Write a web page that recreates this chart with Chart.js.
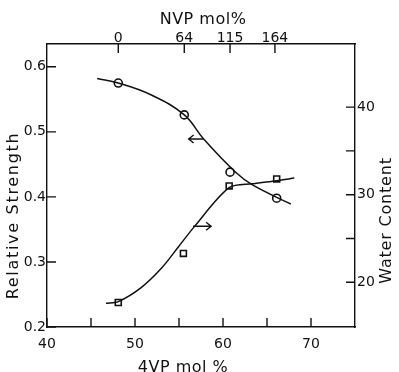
<!DOCTYPE html>
<html>
<head>
<meta charset="utf-8">
<script src="https://cdn.jsdelivr.net/npm/chart.js@4/dist/chart.umd.min.js"></script>
<style>
  html, body { margin: 0; padding: 0; background: #fff; }
  #wrap { width: 399px; height: 372px; }
</style>
</head>
<body>
<div id="wrap"><canvas id="chart"></canvas></div>
<script>
// measured points
const strengthX = [48.1, 55.6, 60.8, 66.1];
const strengthY = [0.575, 0.526, 0.438, 0.398];
const waterX = [48.1, 55.5, 60.7, 66.1];
const waterY = [17.7, 23.3, 31.0, 31.8];

// hand-drawn fitted curves
const strengthFitX = [45.7, 48.1, 51.8, 55.6, 57.8, 61.5, 63.4, 67.7];
const strengthFitY = [0.582, 0.575, 0.557, 0.526, 0.489, 0.437, 0.418, 0.389];
const waterFitX = [46.7, 48.1, 50.7, 53.0, 54.9, 56.7, 60.7, 63.4, 66.1, 68.1];
const waterFitY = [17.6, 17.8, 19.4, 21.6, 24.0, 26.3, 30.8, 31.25, 31.6, 31.9];

// axes
const vpTicks = [40, 45, 50, 55, 60, 65, 70];
const nvpAt = [48.1, 55.6, 60.8, 65.9];
const nvpLabels = ['0', '64', '115', '164'];
const strengthTicks = [0.2, 0.3, 0.4, 0.5, 0.6];
const waterTicks = [20, 25, 30, 35, 40];

// arrows telling which axis each curve belongs to
const arrowX = [57.8, 56.6];
const arrowY = [0.489, 26.4];
const arrowAxis = ['y', 'y2'];
const arrowDir = [-1, 1];

const toPts = (xs, ys) => xs.map((x, i) => ({x: x, y: ys[i]}));
const FONT = '"DejaVu Sans", sans-serif';
const INK = '#111';
const TICK_LEN = 9;

function fixed(size, key) {
  return function(scale) { scale[key] = size; };
}

function axisOpts(extra) {
  return Object.assign({
    grid: {drawOnChartArea: false, drawTicks: false},
    border: {display: true, color: INK, width: 1.4},
    title: {display: false}
  }, extra);
}

// tick marks pointing into the plot, on all four sides
const inwardTicks = {
  id: 'inwardTicks',
  afterDraw(chart) {
    const {ctx, chartArea: a} = chart;
    ctx.save();
    ctx.strokeStyle = INK;
    ctx.lineWidth = 1.4;
    ctx.beginPath();
    Object.values(chart.scales).forEach(s => {
      s.ticks.forEach(t => {
        const p = s.getPixelForValue(t.value);
        if (s.position === 'left') { ctx.moveTo(a.left, p); ctx.lineTo(a.left + TICK_LEN, p); }
        if (s.position === 'right') { ctx.moveTo(a.right, p); ctx.lineTo(a.right - TICK_LEN, p); }
        if (s.position === 'bottom') { ctx.moveTo(p, a.bottom); ctx.lineTo(p, a.bottom - TICK_LEN); }
        if (s.position === 'top') { ctx.moveTo(p, a.top); ctx.lineTo(p, a.top + TICK_LEN); }
      });
    });
    ctx.stroke();
    ctx.restore();
  }
};

const annotate = {
  id: 'annotate',
  afterDraw(chart) {
    const {ctx, chartArea, scales} = chart;
    ctx.save();
    ctx.strokeStyle = INK;
    ctx.lineWidth = 1.4;
    for (let i = 0; i < arrowX.length; i++) {
      const px = scales.x.getPixelForValue(arrowX[i]);
      const py = scales[arrowAxis[i]].getPixelForValue(arrowY[i]);
      const len = arrowDir[i] < 0 ? 15 : 18;
      const ex = px + arrowDir[i] * len;
      ctx.beginPath();
      ctx.moveTo(px, py);
      ctx.lineTo(ex, py);
      ctx.moveTo(ex - arrowDir[i] * 5, py - 4);
      ctx.lineTo(ex, py);
      ctx.lineTo(ex - arrowDir[i] * 5, py + 4);
      ctx.stroke();
    }

    ctx.fillStyle = INK;
    ctx.font = '16px ' + FONT;
    ctx.textAlign = 'center';
    ctx.textBaseline = 'middle';
    const midY = (chartArea.top + chartArea.bottom) / 2;

    ctx.letterSpacing = '0.5px';
    ctx.fillText('NVP mol%', chartArea.left + 156, chartArea.top - 24);
    ctx.fillText('4VP mol %', chartArea.left + 136, chartArea.bottom + 41);

    ctx.save();
    ctx.letterSpacing = '1.7px';
    ctx.translate(chartArea.left - 33, midY + 30);
    ctx.rotate(-Math.PI / 2);
    ctx.fillText('Relative Strength', 0, 0);
    ctx.restore();

    ctx.save();
    ctx.letterSpacing = '0.8px';
    ctx.translate(chartArea.right + 32, midY + 35);
    ctx.rotate(-Math.PI / 2);
    ctx.fillText('Water Content', 0, 0);
    ctx.restore();

    ctx.restore();
  }
};

Chart.defaults.font.family = FONT;
Chart.defaults.font.size = 14;
Chart.defaults.color = INK;

new Chart(document.getElementById('chart'), {
  type: 'scatter',
  data: {
    datasets: [
      {
        label: 'strength fit',
        type: 'line',
        data: toPts(strengthFitX, strengthFitY),
        yAxisID: 'y',
        borderColor: INK,
        borderWidth: 1.5,
        pointRadius: 0,
        tension: 0.4,
        fill: false
      },
      {
        label: 'water fit',
        type: 'line',
        data: toPts(waterFitX, waterFitY),
        yAxisID: 'y2',
        borderColor: INK,
        borderWidth: 1.5,
        pointRadius: 0,
        tension: 0.3,
        fill: false
      },
      {
        label: 'Relative Strength',
        data: toPts(strengthX, strengthY),
        yAxisID: 'y',
        pointStyle: 'circle',
        pointRadius: 4,
        pointBackgroundColor: '#fff',
        pointBorderColor: INK,
        pointBorderWidth: 1.6
      },
      {
        label: 'Water Content',
        data: toPts(waterX, waterY),
        yAxisID: 'y2',
        pointStyle: 'rect',
        pointRadius: 4.2,
        pointBackgroundColor: '#fff',
        pointBorderColor: INK,
        pointBorderWidth: 1.6
      }
    ]
  },
  options: {
    responsive: true,
    maintainAspectRatio: false,
    animation: false,
    layout: {padding: 0},
    plugins: {legend: {display: false}, tooltip: {enabled: false}},
    scales: {
      x: axisOpts({
        type: 'linear', position: 'bottom', min: 40, max: 75,
        afterBuildTicks: s => { s.ticks = vpTicks.map(v => ({value: v})); },
        afterFit: fixed(45, 'height'),
        ticks: {padding: 9, maxRotation: 0, callback: v => (v % 10 === 0 ? String(v) : '')}
      }),
      x2: axisOpts({
        type: 'linear', position: 'top', min: 40, max: 75,
        afterBuildTicks: s => { s.ticks = nvpAt.map(v => ({value: v})); },
        afterFit: fixed(44, 'height'),
        ticks: {padding: -3, maxRotation: 0, callback: (v, i) => nvpLabels[i]}
      }),
      y: axisOpts({
        type: 'linear', position: 'left', min: 0.2, max: 0.635,
        afterBuildTicks: s => { s.ticks = strengthTicks.map(v => ({value: v})); },
        afterFit: fixed(47, 'width'),
        ticks: {padding: 1, callback: v => v.toFixed(1)}
      }),
      y2: axisOpts({
        type: 'linear', position: 'right', min: 14.9, max: 47.2,
        afterBuildTicks: s => { s.ticks = waterTicks.map(v => ({value: v})); },
        afterFit: fixed(44, 'width'),
        ticks: {padding: 2, callback: v => (v % 10 === 0 ? String(v) : '')}
      })
    }
  },
  plugins: [inwardTicks, annotate]
});
</script>
</body>
</html>
